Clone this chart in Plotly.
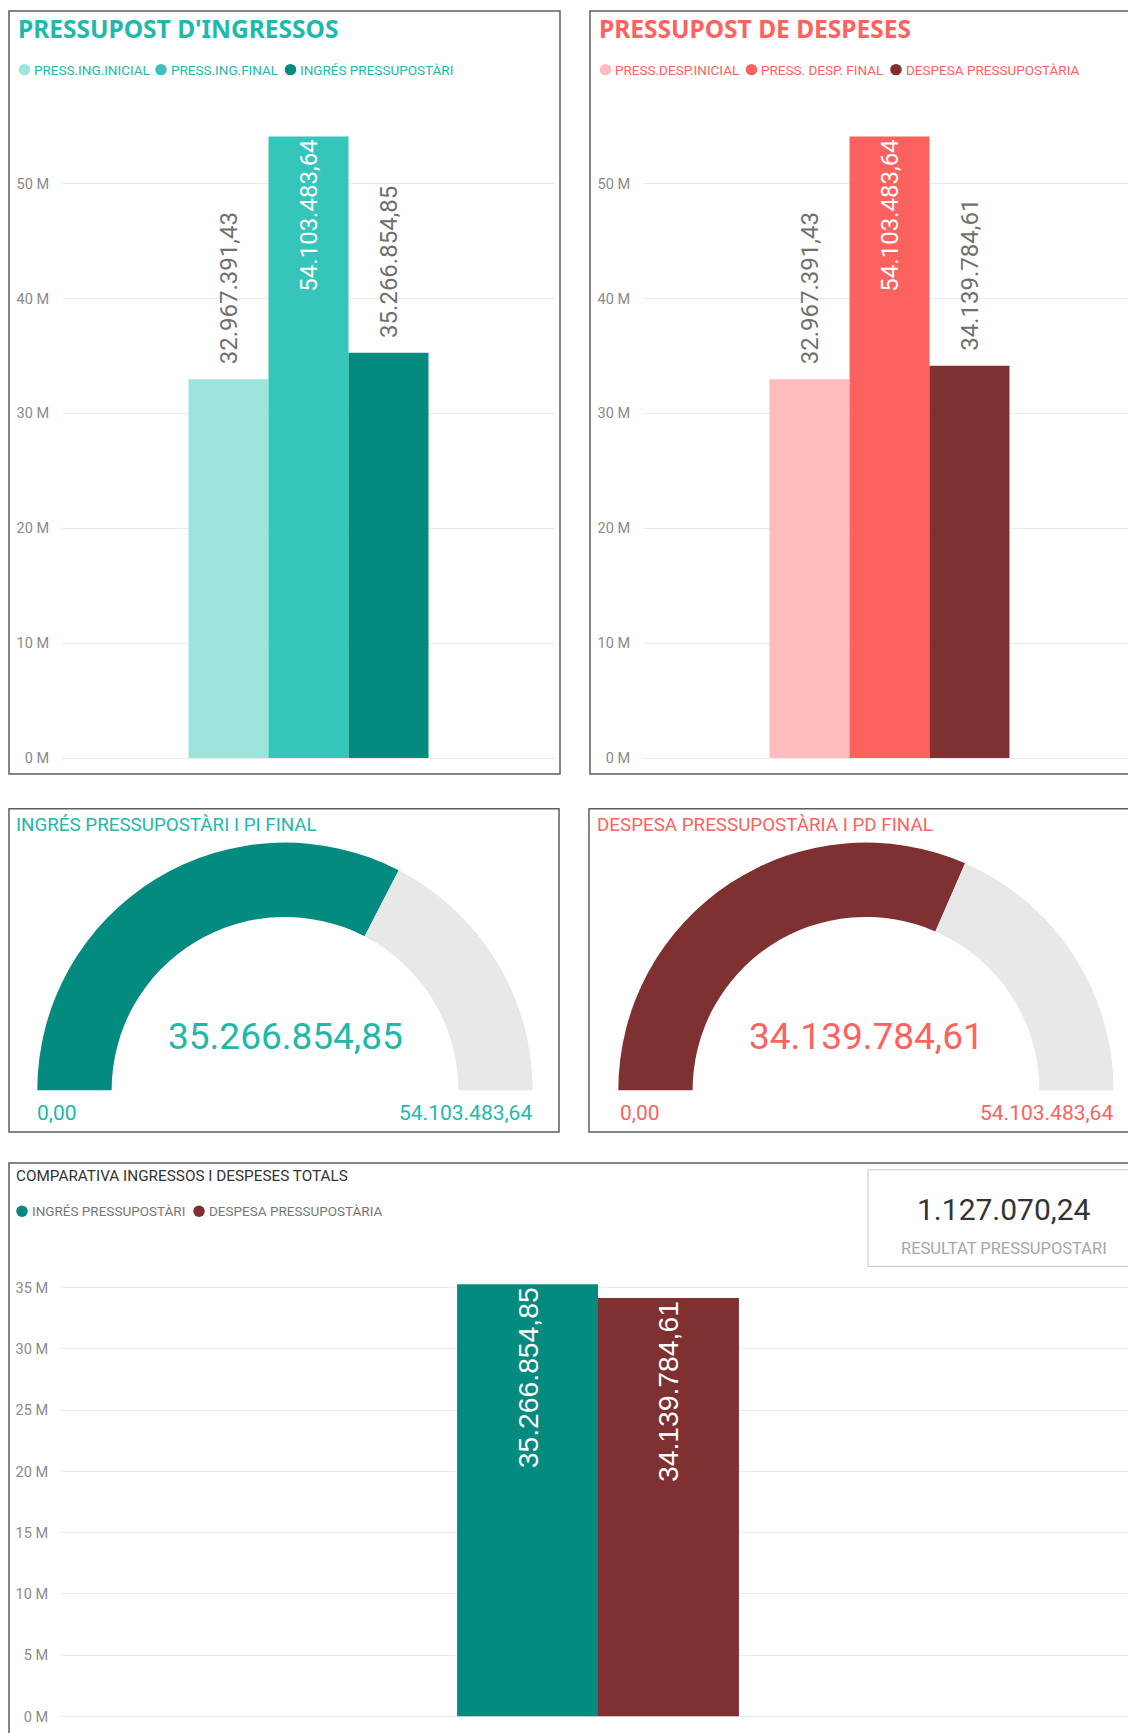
import plotly.graph_objects as go

W, H = 1128, 1733

# ---------------- data ----------------
ing_labels = ["PRESS.ING.INICIAL", "PRESS.ING.FINAL", "INGRÉS PRESSUPOSTÀRI"]
ing_values = [32967391.43, 54103483.64, 35266854.85]
ing_colors = ["#9CE4DC", "#35C5BA", "#038B80"]

desp_labels = ["PRESS.DESP.INICIAL", "PRESS. DESP. FINAL", "DESPESA PRESSUPOSTÀRIA"]
desp_values = [32967391.43, 54103483.64, 34139784.61]
desp_colors = ["#FFBDBD", "#FE625E", "#7E3130"]

comp_labels = ["INGRÉS PRESSUPOSTÀRI", "DESPESA PRESSUPOSTÀRIA"]
comp_values = [35266854.85, 34139784.61]
comp_colors = ["#038B80", "#7E3130"]

ing_gauge_value = 35266854.85
ing_gauge_max = 54103483.64
desp_gauge_value = 34139784.61
desp_gauge_max = 54103483.64
gauge_min = 0.0

resultat = 1127070.24

top_tickvals = [0, 10e6, 20e6, 30e6, 40e6, 50e6]
top_ticktext = ["0 M", "10 M", "20 M", "30 M", "40 M", "50 M"]
bot_tickvals = [0, 5e6, 10e6, 15e6, 20e6, 25e6, 30e6, 35e6]
bot_ticktext = ["0 M", "5 M", "10 M", "15 M", "20 M", "25 M", "30 M", "35 M"]

titles = ["PRESSUPOST D'INGRESSOS", "PRESSUPOST DE DESPESES"]
gauge_titles = ["INGRÉS PRESSUPOSTÀRI I PI FINAL", "DESPESA PRESSUPOSTÀRIA I PD FINAL"]
comp_title = "COMPARATIVA INGRESSOS I DESPESES TOTALS"
card_label = "RESULTAT PRESSUPOSTARI"

# ---------------- style / layout positions (pixels) ----------------
TEAL = "#1DB9AB"
RED = "#FD625E"
GAUGE_BG = "#E8E8E8"
NUMFONT = "Roboto, DejaVu Sans, sans-serif"
UIFONT = "Roboto, Noto Sans, sans-serif"

leg_ing_circle_x = [24.5, 161, 290.5]
leg_ing_text_x = [32, 169, 298]
leg_desp_circle_x = [605.5, 751.5, 896]
leg_desp_text_x = [613, 759, 904]
leg_comp_circle_x = [22, 199]
leg_comp_text_x = [30, 207]


def fmt(v):
    s = f"{v:,.2f}"
    return s.replace(",", "X").replace(".", ",").replace("X", ".")


def px(x):
    return x / W


def py(y):
    return 1 - y / H


fig = go.Figure()

# ---------------- top bar charts ----------------
top_specs = [
    ("x", "y", ing_labels, ing_values, ing_colors),
    ("x2", "y2", desp_labels, desp_values, desp_colors),
]
for xa, ya, labels, values, colors in top_specs:
    for i, (lab, val, col) in enumerate(zip(labels, values, colors)):
        inside = i == 1
        fig.add_trace(go.Bar(
            x=["Total"], y=[val], name=lab, xaxis=xa, yaxis=ya,
            marker=dict(color=col, line=dict(width=0)),
            text=[fmt(val) if inside else "\u00a0\u00a0" + fmt(val)],
            textposition="inside" if inside else "outside",
            insidetextanchor="end",
            textangle=-90,
            constraintext="none",
            textfont=dict(family=NUMFONT, size=24, color="white" if inside else "#707070"),
            cliponaxis=False,
            hoverinfo="skip",
            showlegend=False,
        ))

for lab, val, col in zip(comp_labels, comp_values, comp_colors):
    fig.add_trace(go.Bar(
        x=["Total"], y=[val], name=lab, xaxis="x3", yaxis="y3",
        marker=dict(color=col, line=dict(width=0)),
        text=[fmt(val)], textposition="inside", insidetextanchor="end",
        textangle=-90, constraintext="none",
        textfont=dict(family="Liberation Sans, Arial, sans-serif", size=28.3, color="white"),
        hoverinfo="skip", showlegend=False,
    ))

# ---------------- gauges (half donut) ----------------
gauge_specs = [
    (285, ing_gauge_value, ing_gauge_max, ing_colors[2], TEAL, 35, 534),
    (866, desp_gauge_value, desp_gauge_max, desp_colors[2], RED, 618, 1115),
]
R = 249
CY = 1096
for cx, val, mx, col, tcol, lx, rx in gauge_specs:
    fig.add_trace(go.Pie(
        values=[val - gauge_min, mx - val, mx - gauge_min],
        marker=dict(colors=[col, GAUGE_BG, "rgba(0,0,0,0)"], line=dict(width=0)),
        hole=0.70, sort=False, direction="clockwise", rotation=-90,
        textinfo="none", hoverinfo="skip", showlegend=False,
        domain=dict(x=[px(cx - R), px(cx + R)], y=[py(CY + R), py(CY - R)]),
    ))

annotations = []
for cx, val, mx, col, tcol, lx, rx in gauge_specs:
    annotations.append(dict(x=px(cx), y=py(1042), xref="paper", yref="paper",
                            text=fmt(val), showarrow=False, xanchor="center", yanchor="middle",
                            font=dict(family=NUMFONT, size=37, color=tcol)))
    annotations.append(dict(x=px(lx), y=py(1119), xref="paper", yref="paper",
                            text=fmt(gauge_min), showarrow=False, xanchor="left", yanchor="middle",
                            font=dict(family=NUMFONT, size=21, color=tcol)))
    annotations.append(dict(x=px(rx), y=py(1119), xref="paper", yref="paper",
                            text=fmt(mx), showarrow=False, xanchor="right", yanchor="middle",
                            font=dict(family=NUMFONT, size=21, color=tcol)))

# ---------------- titles & legends ----------------
for tx, title, col in [(16, titles[0], TEAL), (597, titles[1], RED)]:
    annotations.append(dict(x=px(tx), y=py(29), xref="paper", yref="paper", text=title,
                            showarrow=False, xanchor="left", yanchor="middle",
                            font=dict(family="Noto Sans, sans-serif", size=24.5, color=col, weight=700)))

for tx, title, col in [(14, gauge_titles[0], TEAL), (595, gauge_titles[1], RED)]:
    annotations.append(dict(x=px(tx), y=py(829), xref="paper", yref="paper", text=title,
                            showarrow=False, xanchor="left", yanchor="middle",
                            font=dict(family=UIFONT, size=18.8, color=col)))

shapes = []


def add_legend(labels, colors, cxs, txs, ycenter, tcol, tsize, diam=11.5):
    for lab, col, cxp, txp in zip(labels, colors, cxs, txs):
        shapes.append(dict(type="circle", xref="paper", yref="paper",
                           x0=px(cxp - diam / 2), x1=px(cxp + diam / 2),
                           y0=py(ycenter + diam / 2), y1=py(ycenter - diam / 2),
                           fillcolor=col, line=dict(width=0), layer="above"))
        annotations.append(dict(x=px(txp), y=py(ycenter), xref="paper", yref="paper",
                                text=lab, showarrow=False, xanchor="left", yanchor="middle",
                                font=dict(family=UIFONT, size=tsize, color=tcol)))


add_legend(ing_labels, ing_colors, leg_ing_circle_x, leg_ing_text_x, 70, TEAL, 13.5)
add_legend(desp_labels, desp_colors, leg_desp_circle_x, leg_desp_text_x, 70, RED, 13.5)

annotations.append(dict(x=px(14), y=py(1182), xref="paper", yref="paper", text=comp_title,
                        showarrow=False, xanchor="left", yanchor="middle",
                        font=dict(family=UIFONT, size=15.3, color="#333333")))
add_legend(comp_labels, comp_colors, leg_comp_circle_x, leg_comp_text_x, 1217.5, "#777777", 13.5)

# card
annotations.append(dict(x=px(1004), y=py(1216), xref="paper", yref="paper", text=fmt(resultat),
                        showarrow=False, xanchor="center", yanchor="middle",
                        font=dict(family=NUMFONT, size=30, color="#333333")))
annotations.append(dict(x=px(1004), y=py(1255), xref="paper", yref="paper", text=card_label,
                        showarrow=False, xanchor="center", yanchor="middle",
                        font=dict(family=UIFONT, size=16.5, color="#A6A6A6")))

# ---------------- panel borders ----------------
for x0, y0, x1, y1 in [(9, 11, 560, 778), (590, 11, 1140, 778),
                       (9, 813, 559, 1138), (589, 813, 1140, 1138),
                       (9, 1169, 1140, 1745)]:
    shapes.append(dict(type="rect", xref="paper", yref="paper",
                       x0=px(x0), x1=px(x1), y0=py(y1), y1=py(y0),
                       line=dict(color="#5E5E5E", width=1.5), fillcolor="rgba(0,0,0,0)", layer="above"))
shapes.append(dict(type="rect", xref="paper", yref="paper",
                   x0=px(868), x1=px(1140), y0=py(1273), y1=py(1176),
                   line=dict(color="#C8C8C8", width=1), fillcolor="white", layer="below"))

# ---------------- axes ----------------
TOP_Y0, TOP_Y1 = 762, 105
TOP_PPM = 11.55
top_ymax = (TOP_Y0 - TOP_Y1) / TOP_PPM * 1e6
BOT_Y0, BOT_Y1 = 1725.5, 1280
BOT_PPM = 12.32
bot_ymax = (BOT_Y0 - BOT_Y1) / BOT_PPM * 1e6

unit_top = 493.0
unit_bot = 579.0

yax_common = dict(showgrid=True, gridcolor="#EBEBEB", gridwidth=1, zeroline=True,
                  zerolinecolor="#EBEBEB", zerolinewidth=1, showline=False,
                  ticks="outside", ticklen=9, tickcolor="rgba(0,0,0,0)",
                  tickfont=dict(family=UIFONT, size=14.5, color="#8A8A8A"), fixedrange=True)
xax_common = dict(type="category", showgrid=False, zeroline=False, showline=False,
                  showticklabels=False, ticks="", fixedrange=True)

fig.update_layout(
    width=W, height=H,
    margin=dict(l=0, r=0, t=0, b=0),
    paper_bgcolor="white", plot_bgcolor="rgba(0,0,0,0)",
    showlegend=False,
    separators=",.",
    barmode="group", bargap=1 - 240 / unit_top, bargroupgap=0,
    xaxis=dict(domain=[px(62), px(62 + unit_top)], range=[-0.5, 0.5], anchor="y", **xax_common),
    yaxis=dict(domain=[py(TOP_Y0), py(TOP_Y1)], range=[0, top_ymax], anchor="x",
               tickvals=top_tickvals, ticktext=top_ticktext, **yax_common),
    xaxis2=dict(domain=[px(643), 1.0], range=[-0.5, (W - 643) / unit_top - 0.5], anchor="y2", **xax_common),
    yaxis2=dict(domain=[py(TOP_Y0), py(TOP_Y1)], range=[0, top_ymax], anchor="x2",
                tickvals=top_tickvals, ticktext=top_ticktext, **yax_common),
    xaxis3=dict(domain=[px(61), 1.0], range=[-(598 - 61) / unit_bot, (W - 598) / unit_bot],
                anchor="y3", **xax_common),
    yaxis3=dict(domain=[py(BOT_Y0), py(BOT_Y1)], range=[0, bot_ymax], anchor="x3",
                tickvals=bot_tickvals, ticktext=bot_ticktext, **yax_common),
    annotations=annotations,
    shapes=shapes,
)

fig.write_html(
    "out.html",
    config={"displayModeBar": False},
    post_script="document.body.style.margin='0px';document.documentElement.style.overflow='hidden';",
)
